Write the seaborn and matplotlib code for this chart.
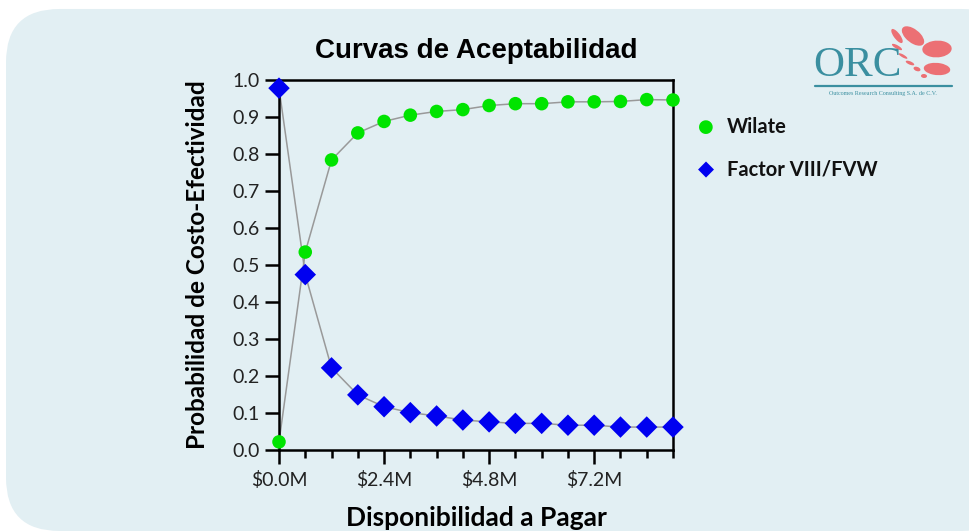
import numpy as np
import pandas as pd
import matplotlib
matplotlib.use("Agg")
import matplotlib.pyplot as plt
from matplotlib.patches import FancyBboxPatch, Ellipse
from matplotlib.ticker import MultipleLocator, FuncFormatter
import seaborn as sns

# ---- data ----
wtp_millions = [0.0, 0.6, 1.2, 1.8, 2.4, 3.0, 3.6, 4.2, 4.8, 5.4, 6.0, 6.6, 7.2, 7.8, 8.4, 9.0]
wilate = [0.022, 0.535, 0.784, 0.857, 0.888, 0.905, 0.915, 0.920, 0.931, 0.936, 0.936, 0.941, 0.941, 0.942, 0.947, 0.946]
factor = [0.978, 0.474, 0.222, 0.149, 0.117, 0.101, 0.092, 0.081, 0.076, 0.072, 0.072, 0.067, 0.067, 0.062, 0.062, 0.062]
series_names = ["Wilate", "Factor VIII/FVW"]
title = "Curvas de Aceptabilidad"
xlabel = "Disponibilidad a Pagar"
ylabel = "Probabilidad de Costo-Efectividad"

df = pd.DataFrame({
    "x": wtp_millions * 2,
    "y": wilate + factor,
    "serie": [series_names[0]] * len(wilate) + [series_names[1]] * len(factor),
})

sns.set_theme(style="white")
plt.rcParams["font.family"] = ["Lato", "DejaVu Sans"]

W, H = 969, 531
fig = plt.figure(figsize=(W / 100, H / 100), dpi=100)
fig.patch.set_facecolor("white")
bg = "#E2EFF3"
panel = FancyBboxPatch((6 / W, 0.02 / H), (W + 40) / W, (H - 9) / H,
                       boxstyle="round,pad=0,rounding_size=0.055",
                       mutation_aspect=W / H,
                       transform=fig.transFigure, facecolor=bg, edgecolor="none", zorder=-10)
fig.patches.append(panel)

ax = fig.add_axes([279 / W, 1 - 450 / H, (673 - 279) / W, (450 - 80) / H])
ax.set_facecolor(bg)
ax.set_zorder(1)

# connecting lines
sns.lineplot(data=df, x="x", y="y", units="serie", estimator=None, color="#999999",
             linewidth=1.1, ax=ax, legend=False, zorder=2)
# markers
sns.scatterplot(data=df, x="x", y="y", hue="serie", style="serie", size="serie",
                palette={series_names[0]: "#00E400", series_names[1]: "#0000F0"},
                markers={series_names[0]: "o", series_names[1]: "D"},
                sizes={series_names[0]: 95, series_names[1]: 120},
                edgecolor="none", ax=ax, zorder=3,
                legend=False)
for c in ax.collections:
    c.set_clip_on(False)

ax.set_xlim(0, 9.0)
ax.set_ylim(0, 1.0)
ax.xaxis.set_major_locator(MultipleLocator(2.4))
ax.xaxis.set_minor_locator(MultipleLocator(0.6))
ax.xaxis.set_major_formatter(FuncFormatter(lambda v, p: f"${v:.1f}M"))
ax.yaxis.set_major_locator(MultipleLocator(0.1))
ax.yaxis.set_major_formatter(FuncFormatter(lambda v, p: f"{v:.1f}"))
for s in ax.spines.values():
    s.set_color("black")
    s.set_linewidth(1.8)
    s.set_visible(True)
ax.tick_params(axis="x", which="major", direction="out", length=10, width=1.8, color="black",
               labelsize=14, pad=5, bottom=True)
ax.tick_params(axis="x", which="minor", direction="out", length=6, width=1.8, color="black", bottom=True)
ax.tick_params(axis="y", which="major", direction="out", length=10, width=1.8, color="black",
               labelsize=14, pad=4, left=True)
for lab in ax.get_xticklabels() + ax.get_yticklabels():
    lab.set_color("#222222")

ax.set_xlabel(xlabel, fontsize=19, fontweight="bold", labelpad=12, color="black")
ax.set_ylabel(ylabel, fontsize=17.5, fontweight="bold", labelpad=17, color="black")
ax.set_title(title, fontsize=20, fontweight="bold", pad=16, color="black",
             family=["Liberation Sans", "DejaVu Sans"])

# legend
fig.text(706 / W, 1 - 127 / H, "●", color="#00E400", fontsize=13, ha="center", va="center",
         family=["DejaVu Sans"])
fig.text(706 / W, 1 - 169 / H, "◆", color="#0000F0", fontsize=15, ha="center", va="center",
         family=["DejaVu Sans"])
fig.text(727 / W, 1 - 127 / H, series_names[0], fontsize=14.5, fontweight="bold", va="center", color="#111111")
fig.text(727 / W, 1 - 169 / H, series_names[1], fontsize=14.5, fontweight="bold", va="center", color="#111111")

# ORC logo
teal = "#3A8FA0"
fig.text(813 / W, 1 - 66 / H, "ORC", fontsize=31, color=teal, family=["Liberation Serif"],
         va="center", ha="left")
fig.add_artist(plt.Line2D([815 / W, 952 / W], [1 - 86 / H, 1 - 86 / H], color=teal, lw=1.6,
                          transform=fig.transFigure))
fig.text(883 / W, 1 - 93 / H, "Outcomes Research Consulting S.A. de C.V.", fontsize=4.3,
         color=teal, family=["Liberation Serif"], ha="center", va="center")
red = "#EE5A5E"
for (cx, cy, w, h, ang) in [(897, 36, 7, 15, 20), (913, 36, 17, 21, 25), (937, 49, 29, 17, -25),
                             (937, 69, 27, 12, -20), (897, 47, 5, 8, 40), (903, 56, 4, 7, 40),
                             (910, 63, 5, 6, 45), (917, 69, 6, 5, 30), (924, 76, 6, 4, 10)]:
    e = Ellipse((cx / W, 1 - cy / H), w / W, h / H, angle=ang, transform=fig.transFigure,
                facecolor=red, edgecolor="none", alpha=0.85)
    fig.add_artist(e)

fig.savefig("out.png", dpi=100, facecolor=fig.get_facecolor())
